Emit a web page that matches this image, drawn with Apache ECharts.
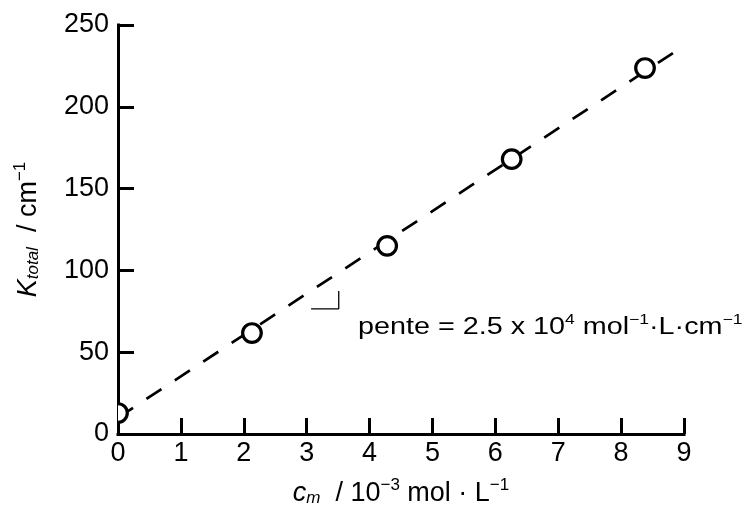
<!DOCTYPE html>
<html>
<head>
<meta charset="utf-8">
<script src="https://cdn.jsdelivr.net/npm/echarts@6/dist/echarts.min.js"></script>
<style>
  html, body { margin: 0; padding: 0; background: #fff; }
  #chart { width: 745px; height: 516px; }
</style>
</head>
<body>
<div id="chart"></div>
<script>
// ---- data ----
const concentration = [0.0, 2.13, 4.28, 6.26, 8.38];       // c_m / 10^-3 mol·L^-1
const kTotal        = [12.8, 61.7, 115.0, 168.0, 223.7];   // K_total / cm^-1
const fitX = [0, 9];
const fitY = [10.0, 237.3];
const slopeMarkX = [3.07, 3.51, 3.51];
const slopeMarkY = [76.5, 76.5, 87.4];
const xTicks = [0, 1, 2, 3, 4, 5, 6, 7, 8, 9];
const yTicks = [0, 50, 100, 150, 200, 250];

const FONT = '"Liberation Sans", Arial, Helvetica, sans-serif';

const chart = echarts.init(document.getElementById('chart'), null, { renderer: 'canvas' });

const points = concentration.map((x, i) => [x, kTotal[i]]);
const fitLine = fitX.map((x, i) => [x, fitY[i]]);
const slopeMark = slopeMarkX.map((x, i) => [x, slopeMarkY[i]]);

const axisCommon = {
  axisLine: { show: true, onZero: false, lineStyle: { color: '#000', width: 3, cap: 'square' } },
  axisTick: { show: true, inside: true, length: 16, lineStyle: { color: '#000', width: 3 } },
  splitLine: { show: false },
};

const nameRich = {
  i: { fontFamily: FONT, fontStyle: 'italic', fontSize: 27, color: '#000', verticalAlign: 'bottom', lineHeight: 30 },
  isub: { fontFamily: FONT, fontStyle: 'italic', fontSize: 17, color: '#000', verticalAlign: 'bottom', lineHeight: 23 },
  n: { fontFamily: FONT, fontSize: 27, color: '#000', verticalAlign: 'bottom', lineHeight: 30 },
  sup: { fontFamily: FONT, fontSize: 17, color: '#000', verticalAlign: 'top', lineHeight: 23 }
};

chart.setOption({
  animation: false,
  backgroundColor: '#fff',
  grid: { left: 118, right: 61, top: 25, bottom: 82, containLabel: false },
  xAxis: Object.assign({}, axisCommon, {
    type: 'value',
    min: xTicks[0],
    max: xTicks[xTicks.length - 1],
    interval: 1,
    axisLabel: { color: '#000', fontFamily: FONT, fontSize: 27, margin: 6 },
    name: '{i|c}{isub|m}{n|  / 10}{sup|−3}{n| mol · L}{sup|−1}',
    nameLocation: 'middle',
    nameGap: 43,
    nameTextStyle: { color: '#000', rich: nameRich }
  }),
  yAxis: Object.assign({}, axisCommon, {
    type: 'value',
    min: yTicks[0],
    max: yTicks[yTicks.length - 1],
    interval: 50,
    axisLabel: { color: '#000', fontFamily: FONT, fontSize: 27, margin: 9 },
    name: '{i|K}{isub|total}{n|  / cm}{sup|−1}',
    nameLocation: 'middle',
    nameRotate: 90,
    nameGap: 76,
    nameTextStyle: { color: '#000', rich: nameRich }
  }),
  series: [
    {
      name: 'fit',
      type: 'line',
      data: fitLine,
      symbol: 'none',
      silent: true,
      lineStyle: { color: '#000', width: 2.7, type: [18, 16], cap: 'butt' },
      z: 2
    },
    {
      name: 'slope',
      type: 'line',
      data: slopeMark,
      symbol: 'none',
      silent: true,
      lineStyle: { color: '#000', width: 1.3 },
      z: 2
    },
    {
      name: 'points',
      type: 'custom',
      data: points,
      z: 3,
      renderItem: function (params, api) {
        const p = api.coord([api.value(0), api.value(1)]);
        const left = api.coord([xTicks[0], yTicks[0]])[0];
        const r = 9.3;
        if (p[0] - r >= left) {
          return {
            type: 'circle',
            shape: { cx: p[0], cy: p[1], r: r },
            style: { fill: '#fff', stroke: '#000', lineWidth: 3.2 }
          };
        }
        const a = Math.acos(Math.max(-1, Math.min(1, (left - p[0]) / r)));
        return {
          type: 'group',
          children: [
            {
              type: 'sector',
              shape: { cx: p[0], cy: p[1], r0: 0, r: r, startAngle: -a, endAngle: a, clockwise: true },
              style: { fill: '#fff', stroke: null }
            },
            {
              type: 'arc',
              shape: { cx: p[0], cy: p[1], r: r, startAngle: -a, endAngle: a, clockwise: true },
              style: { fill: null, stroke: '#000', lineWidth: 3.2 }
            }
          ]
        };
      }
    }
  ],
  graphic: [
    {
      type: 'text',
      x: 358,
      y: 326,
      scaleX: 1.25,
      style: {
        text: '{n|pente = 2.5 x 10}{sup|4}{n| mol}{sup|−1}{n|·L·cm}{sup|−1}',
        verticalAlign: 'middle',
        align: 'left',
        rich: {
          n: { fontFamily: FONT, fontSize: 23, fill: '#000', verticalAlign: 'bottom', lineHeight: 26 },
          sup: { fontFamily: FONT, fontSize: 14, fill: '#000', verticalAlign: 'top', lineHeight: 20 }
        }
      }
    }
  ]
});
</script>
</body>
</html>
